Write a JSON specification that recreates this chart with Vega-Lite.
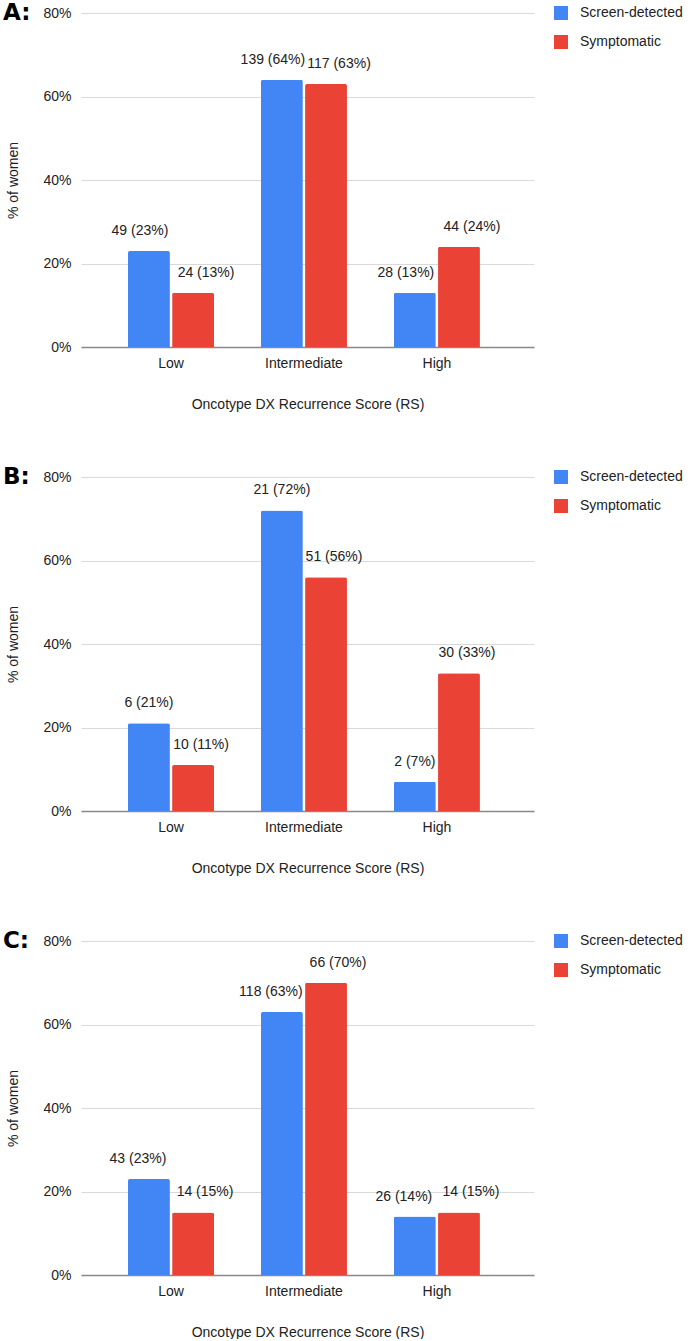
{
  "$schema": "https://vega.github.io/schema/vega-lite/v6.json",
  "background": "white",
  "padding": {"left": 2, "top": 2, "right": 0, "bottom": 0},
  "spacing": 55,
  "data": {"values": [
    {"panel": "A", "rs": "Low", "group": "Screen-detected", "pct": 23, "label": "49 (23%)"},
    {"panel": "A", "rs": "Low", "group": "Symptomatic", "pct": 13, "label": "24 (13%)"},
    {"panel": "A", "rs": "Intermediate", "group": "Screen-detected", "pct": 64, "label": "139 (64%)"},
    {"panel": "A", "rs": "Intermediate", "group": "Symptomatic", "pct": 63, "label": "117 (63%)"},
    {"panel": "A", "rs": "High", "group": "Screen-detected", "pct": 13, "label": "28 (13%)"},
    {"panel": "A", "rs": "High", "group": "Symptomatic", "pct": 24, "label": "44 (24%)"},
    {"panel": "B", "rs": "Low", "group": "Screen-detected", "pct": 21, "label": "6 (21%)"},
    {"panel": "B", "rs": "Low", "group": "Symptomatic", "pct": 11, "label": "10 (11%)"},
    {"panel": "B", "rs": "Intermediate", "group": "Screen-detected", "pct": 72, "label": "21 (72%)"},
    {"panel": "B", "rs": "Intermediate", "group": "Symptomatic", "pct": 56, "label": "51 (56%)"},
    {"panel": "B", "rs": "High", "group": "Screen-detected", "pct": 7, "label": "2 (7%)"},
    {"panel": "B", "rs": "High", "group": "Symptomatic", "pct": 33, "label": "30 (33%)"},
    {"panel": "C", "rs": "Low", "group": "Screen-detected", "pct": 23, "label": "43 (23%)"},
    {"panel": "C", "rs": "Low", "group": "Symptomatic", "pct": 15, "label": "14 (15%)"},
    {"panel": "C", "rs": "Intermediate", "group": "Screen-detected", "pct": 63, "label": "118 (63%)"},
    {"panel": "C", "rs": "Intermediate", "group": "Symptomatic", "pct": 70, "label": "66 (70%)"},
    {"panel": "C", "rs": "High", "group": "Screen-detected", "pct": 14, "label": "26 (14%)"},
    {"panel": "C", "rs": "High", "group": "Symptomatic", "pct": 15, "label": "14 (15%)"}
  ]},
  "config": {
    "font": "Liberation Sans",
    "view": {"stroke": null},
    "axis": {
      "labelFont": "Liberation Sans", "labelFontSize": 14, "labelColor": "#222",
      "titleFont": "Liberation Sans", "titleFontSize": 14, "titleFontWeight": "normal", "titleColor": "#222",
      "ticks": false
    },
    "axisX": {"labelAngle": 0, "domainColor": "#888", "domainWidth": 1.5, "labelPadding": 9, "titlePadding": 27},
    "axisY": {"domain": false, "gridColor": "#d9d9d9", "labelPadding": 10, "titlePadding": 22},
    "bar": {"cornerRadiusTopLeft": 2, "cornerRadiusTopRight": 2},
    "text": {"font": "Liberation Sans", "fontSize": 14, "color": "#222", "baseline": "middle"},
    "legend": {
      "title": null, "orient": "none", "legendX": 473, "legendY": -7,
      "symbolType": "square", "symbolSize": 196, "symbolStrokeWidth": 0, "symbolOpacity": 1,
      "labelFont": "Liberation Sans", "labelFontSize": 14, "labelColor": "#222",
      "labelOffset": 12, "rowPadding": 15
    },
    "title": {
      "font": "DejaVu Sans", "fontSize": 23, "fontWeight": "bold", "color": "#000",
      "anchor": "start", "frame": "bounds", "orient": "top", "baseline": "middle", "offset": 0, "dx": -4, "dy": 23
    }
  },
  "resolve": {"legend": {"color": "independent"}},
  "vconcat": [
    {
      "title": {"text": "A:"},
      "width": 453, "height": 334,
      "transform": [{"filter": "datum.panel == 'A'"}],
      "encoding": {
        "x": {"field": "rs", "type": "nominal", "sort": ["Low", "Intermediate", "High"],
              "scale": {"paddingInner": 0.353, "paddingOuter": 0.38, "align": 0.465},
              "axis": {"title": "Oncotype DX Recurrence Score (RS)"}},
        "xOffset": {"field": "group", "type": "nominal", "sort": ["Screen-detected", "Symptomatic"], "scale": {"paddingInner": 0.05, "paddingOuter": 0}},
        "y": {"field": "pct", "type": "quantitative", "scale": {"domain": [0, 80]},
              "axis": {"values": [0, 20, 40, 60, 80], "labelExpr": "datum.value + '%'", "title": "% of women"}},
        "color": {"field": "group", "type": "nominal",
                  "scale": {"domain": ["Screen-detected", "Symptomatic"], "range": ["#4285F4", "#EA4335"]}}
      },
      "layer": [
        {"mark": {"type": "bar"}},
        {"transform": [{"filter": "datum.group == 'Screen-detected'"}],
         "mark": {"type": "text", "dy": -20, "dx": -9},
         "encoding": {"text": {"field": "label"}, "color": {"value": "#222"}}},
        {"transform": [{"filter": "datum.group == 'Symptomatic'"}],
         "mark": {"type": "text", "dy": -20, "dx": 13},
         "encoding": {"text": {"field": "label"}, "color": {"value": "#222"}}}
      ]
    },
    {
      "title": {"text": "B:"},
      "width": 453, "height": 334,
      "transform": [{"filter": "datum.panel == 'B'"}],
      "encoding": {
        "x": {"field": "rs", "type": "nominal", "sort": ["Low", "Intermediate", "High"],
              "scale": {"paddingInner": 0.353, "paddingOuter": 0.38, "align": 0.465},
              "axis": {"title": "Oncotype DX Recurrence Score (RS)"}},
        "xOffset": {"field": "group", "type": "nominal", "sort": ["Screen-detected", "Symptomatic"], "scale": {"paddingInner": 0.05, "paddingOuter": 0}},
        "y": {"field": "pct", "type": "quantitative", "scale": {"domain": [0, 80]},
              "axis": {"values": [0, 20, 40, 60, 80], "labelExpr": "datum.value + '%'", "title": "% of women"}},
        "color": {"field": "group", "type": "nominal",
                  "scale": {"domain": ["Screen-detected", "Symptomatic"], "range": ["#4285F4", "#EA4335"]}}
      },
      "layer": [
        {"mark": {"type": "bar"}},
        {"transform": [{"filter": "datum.group == 'Screen-detected'"}],
         "mark": {"type": "text", "dy": -20, "dx": 0},
         "encoding": {"text": {"field": "label"}, "color": {"value": "#222"}}},
        {"transform": [{"filter": "datum.group == 'Symptomatic'"}],
         "mark": {"type": "text", "dy": -20, "dx": 8},
         "encoding": {"text": {"field": "label"}, "color": {"value": "#222"}}}
      ]
    },
    {
      "title": {"text": "C:"},
      "width": 453, "height": 334,
      "transform": [{"filter": "datum.panel == 'C'"}],
      "encoding": {
        "x": {"field": "rs", "type": "nominal", "sort": ["Low", "Intermediate", "High"],
              "scale": {"paddingInner": 0.353, "paddingOuter": 0.38, "align": 0.465},
              "axis": {"title": "Oncotype DX Recurrence Score (RS)"}},
        "xOffset": {"field": "group", "type": "nominal", "sort": ["Screen-detected", "Symptomatic"], "scale": {"paddingInner": 0.05, "paddingOuter": 0}},
        "y": {"field": "pct", "type": "quantitative", "scale": {"domain": [0, 80]},
              "axis": {"values": [0, 20, 40, 60, 80], "labelExpr": "datum.value + '%'", "title": "% of women"}},
        "color": {"field": "group", "type": "nominal",
                  "scale": {"domain": ["Screen-detected", "Symptomatic"], "range": ["#4285F4", "#EA4335"]}}
      },
      "layer": [
        {"mark": {"type": "bar"}},
        {"transform": [{"filter": "datum.group == 'Screen-detected'"}],
         "mark": {"type": "text", "dy": -20, "dx": -11},
         "encoding": {"text": {"field": "label"}, "color": {"value": "#222"}}},
        {"transform": [{"filter": "datum.group == 'Symptomatic'"}],
         "mark": {"type": "text", "dy": -20, "dx": 12},
         "encoding": {"text": {"field": "label"}, "color": {"value": "#222"}}}
      ]
    }
  ]
}
